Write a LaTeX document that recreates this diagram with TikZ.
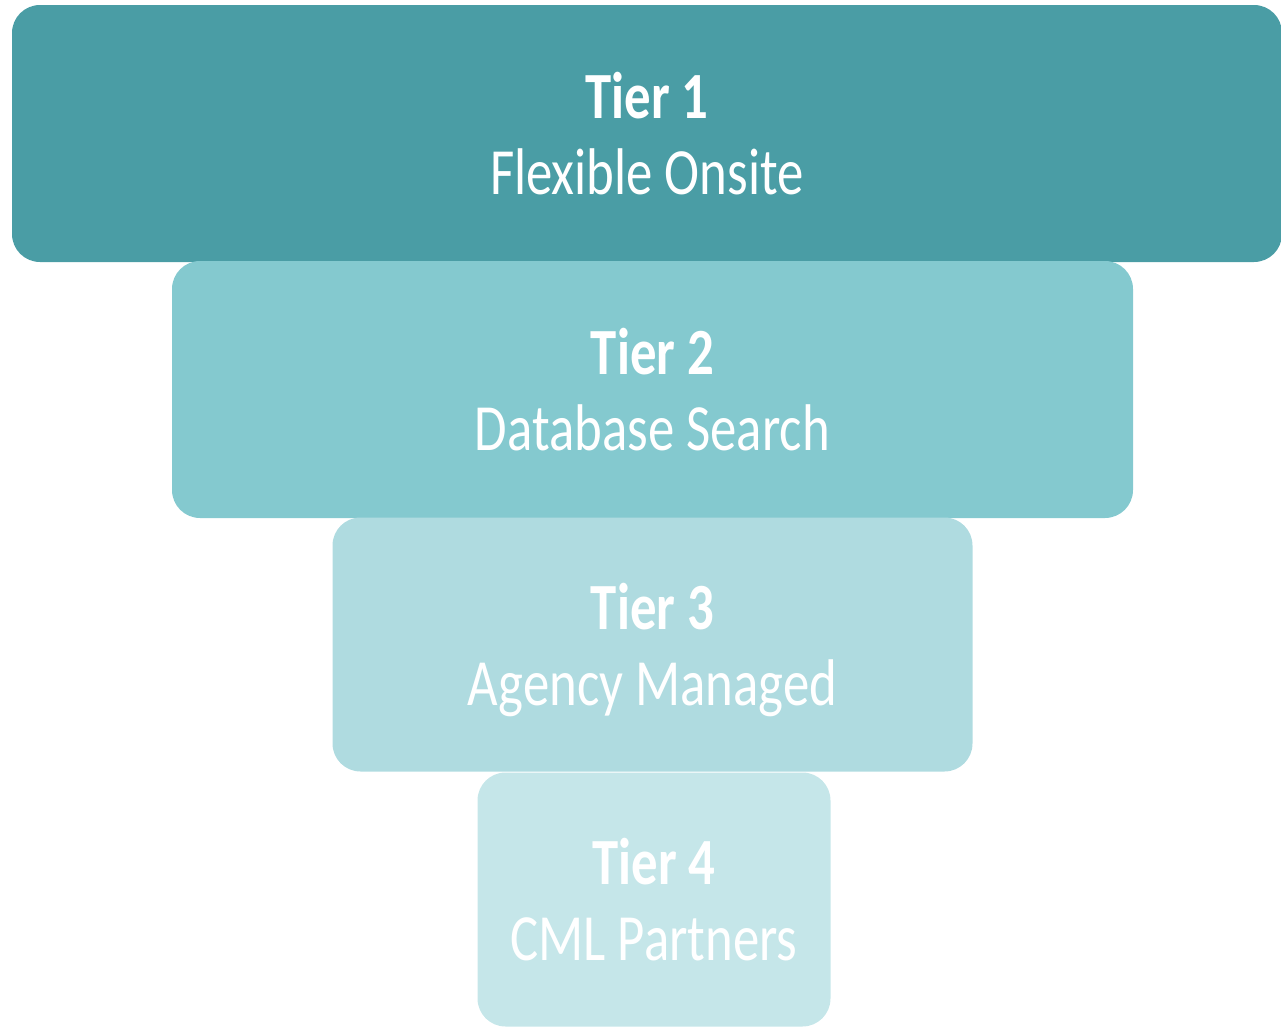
\documentclass[tikz,border=0pt]{standalone}
\usepackage{fontspec}
\setmainfont{Carlito}
\newfontfamily\tierfont[FakeStretch=0.8]{Carlito}
\usetikzlibrary{positioning}
\definecolor{tierone}{HTML}{4A9DA5}
\definecolor{tiertwo}{HTML}{84C9CF}
\definecolor{tierthree}{HTML}{AFDBE0}
\definecolor{tierfour}{HTML}{C5E6E9}
\tikzstyle{tier} = [rectangle, rounded corners=14pt, inner sep=0pt, text=white, align=center, text depth=0pt, font=\tierfont\fontsize{33}{38}\selectfont]

\begin{document}
\begin{tikzpicture}[x=0.5pt, y=-0.5pt, node distance=128pt]
	\useasboundingbox (0,0) rectangle (1281,1028);
	\node (tierOne) [tier, fill=tierone, minimum width=635pt, minimum height=128.5pt] at (647,133.5) {\textbf{Tier 1}\\Flexible Onsite};
	\node (tierTwo) [tier, fill=tiertwo, minimum width=480.5pt, minimum height=128.5pt, below of=tierOne, xshift=2.75pt] {\textbf{Tier 2}\\Database Search};
	\node (tierThree) [tier, fill=tierthree, minimum width=320pt, minimum height=127pt, below of=tierTwo, yshift=0.5pt] {\textbf{Tier 3}\\Agency Managed};
	\node (tierFour) [tier, fill=tierfour, minimum width=176.5pt, minimum height=127pt, below of=tierThree, xshift=0.75pt, yshift=0.5pt] {\textbf{Tier 4}\\CML Partners};
\end{tikzpicture}
\end{document}
